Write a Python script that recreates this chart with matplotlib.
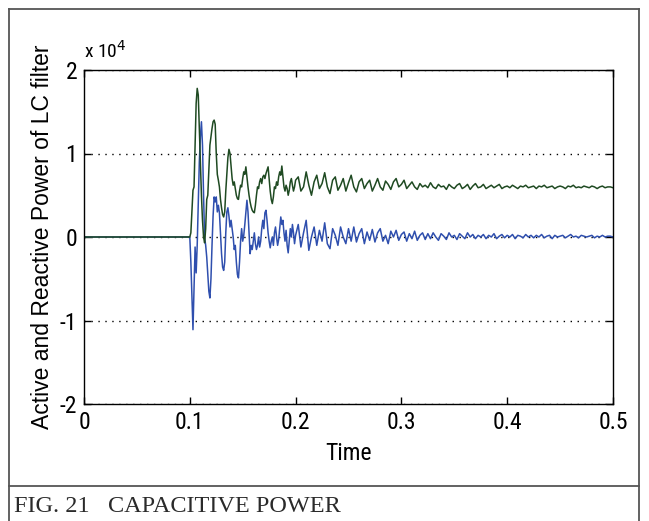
import numpy as np
import matplotlib.pyplot as plt
plt.switch_backend('agg')

# +------+
# | Data |
# +------+
# transient part, sampled every 1 ms from t = 0.100 s to t = 0.200 s (units of 1e4)
t_trans_start = 0.100
t_trans_step = 0.001
active_trans = [
  0.0, 0.05, 0.3, 0.56, 0.6, 1.1, 1.6, 1.78, 1.7, 1.3,
  0.9, 0.5, 0.2, 0.0, -0.07, 0.1, 0.45, 0.5, 0.8, 1.1,
  1.2, 1.3, 1.38, 1.40, 1.35, 1.0, 0.75, 0.68, 0.6, 0.45,
  0.35, 0.27, 0.24, 0.3, 0.55, 0.75, 0.95, 1.05, 1.0, 0.85,
  0.7, 0.62, 0.66, 0.58, 0.5, 0.46, 0.45, 0.55, 0.62, 0.6,
  0.7, 0.78, 0.75, 0.84, 0.72, 0.6, 0.5, 0.42, 0.36, 0.32,
  0.3, 0.29, 0.38, 0.5, 0.6, 0.58, 0.66, 0.7, 0.64, 0.72,
  0.74, 0.7, 0.76, 0.8, 0.84, 0.7, 0.55, 0.45, 0.4, 0.48,
  0.6, 0.58, 0.66, 0.62, 0.72, 0.78, 0.74, 0.85, 0.72, 0.6,
  0.55, 0.62, 0.58, 0.5, 0.56, 0.66, 0.7, 0.62, 0.55, 0.6,
  0.68]
reactive_trans = [
  0.0, -0.3, -0.7, -1.11, -0.6, -0.12, -0.43, -0.1, 0.4, 0.9,
  1.2, 1.38, 1.1, 0.5, 0.0, -0.1, -0.24, -0.45, -0.65, -0.73,
  -0.5, -0.1, 0.25, 0.48, 0.42, 0.48, 0.3, 0.38, 0.29, 0.05,
  -0.2, -0.36, -0.4, -0.3, 0.05, 0.3, 0.35, 0.25, 0.12, 0.2,
  0.1, 0.0, -0.15, -0.1, -0.3, -0.45, -0.49, -0.3, -0.05, 0.1,
  -0.05, 0.02, 0.15, 0.3, 0.44, 0.3, 0.05, -0.2, -0.1, -0.15,
  -0.05, 0.05, -0.08, -0.15, -0.1, 0.0, -0.12, -0.05, 0.1, 0.2,
  0.1, 0.29, 0.32, 0.2, 0.05, -0.05, -0.13, -0.05, 0.0, -0.1,
  0.05, 0.12, 0.0, -0.1, -0.03, 0.1, 0.24, 0.15, 0.2, 0.05,
  -0.05, 0.08, -0.1, -0.19, -0.05, 0.1, 0.0, 0.15, 0.05, -0.08,
  0.02]
# steady part, sampled every 2.5 ms from t = 0.2025 s to t = 0.5 s
t_tail_start = 0.2025
t_tail_step = 0.0025
active_tail = [
  0.72, 0.55, 0.6, 0.78, 0.62, 0.5, 0.66, 0.74, 0.58, 0.64,
  0.77, 0.6, 0.52, 0.68, 0.72, 0.56, 0.62, 0.7, 0.55, 0.65,
  0.74, 0.6, 0.54, 0.66, 0.7, 0.58, 0.64, 0.68, 0.55, 0.62,
  0.7, 0.6, 0.56, 0.67, 0.63, 0.57, 0.66, 0.7, 0.6, 0.63,
  0.68, 0.58, 0.62, 0.66, 0.6, 0.57, 0.64, 0.6, 0.62, 0.59,
  0.65, 0.6, 0.58, 0.63, 0.6, 0.61, 0.57, 0.63, 0.6, 0.58,
  0.62, 0.64, 0.58, 0.6, 0.63, 0.57, 0.61, 0.64, 0.59, 0.6,
  0.63, 0.58, 0.6, 0.62, 0.59, 0.61, 0.63, 0.58, 0.6, 0.61,
  0.59, 0.62, 0.6, 0.58, 0.61, 0.6, 0.62, 0.59, 0.6, 0.61,
  0.58, 0.61, 0.6, 0.62, 0.59, 0.6, 0.61, 0.58, 0.6, 0.61,
  0.6, 0.58, 0.61, 0.6, 0.62, 0.59, 0.6, 0.59, 0.61, 0.6,
  0.59, 0.61, 0.6, 0.58, 0.6, 0.61, 0.59, 0.6, 0.6, 0.59]
reactive_tail = [
  0.15, -0.12, 0.05, 0.2, -0.16, 0.0, 0.12, -0.1, 0.08, -0.05,
  0.17, -0.08, -0.14, 0.1, 0.02, -0.1, 0.12, 0.0, -0.08, 0.1,
  -0.05, 0.12, -0.06, 0.04, 0.1, -0.08, 0.06, -0.04, 0.09, -0.06,
  0.05, 0.1, -0.05, 0.02, -0.08, 0.07, 0.0, 0.08, -0.04, 0.03,
  0.06, -0.05, 0.04, -0.02, 0.07, -0.04, 0.02, 0.05, -0.03, 0.04,
  -0.02, 0.05, 0.0, -0.04, 0.04, 0.01, -0.03, 0.05, 0.0, 0.02,
  -0.03, 0.04, 0.01, -0.02, 0.05, 0.0, 0.03, -0.02, 0.02, 0.0,
  0.03, -0.02, 0.02, 0.0, 0.04, -0.02, 0.01, 0.03, -0.01, 0.02,
  0.0, 0.03, -0.02, 0.02, 0.01, -0.01, 0.03, 0.0, 0.02, -0.01,
  0.02, 0.0, 0.03, -0.01, 0.01, 0.02, -0.02, 0.02, 0.0, 0.01,
  0.02, -0.01, 0.01, 0.03, 0.0, 0.01, -0.01, 0.02, 0.01, 0.0,
  0.01, 0.02, -0.01, 0.01, 0.0, 0.02, 0.0, 0.01, 0.01, 0.0]

x_ticks = [0, 0.1, 0.2, 0.3, 0.4, 0.5]
x_tick_labels = ['0', '0.1', '0.2', '0.3', '0.4', '0.5']
y_ticks = [-2, -1, 0, 1, 2]
y_tick_labels = ['-2', '-1', '0', '1', '2']
caption = 'FIG. 21   CAPACITIVE POWER'

# build the time base: flat zero before the switching instant
t_trans = t_trans_start + t_trans_step * np.arange(len(active_trans))
t_tail = t_tail_start + t_tail_step * np.arange(len(active_tail))
t = np.concatenate([[0.0], t_trans, t_tail])
active = np.concatenate([[0.0], active_trans, active_tail])
reactive = np.concatenate([[0.0], reactive_trans, reactive_tail])

# +------+
# | Plot |
# +------+
narrow = ['Liberation Sans Narrow', 'Roboto Condensed', 'Liberation Sans', 'DejaVu Sans']
plt.rcParams['xtick.direction'] = 'in'
plt.rcParams['ytick.direction'] = 'in'

fig = plt.figure(figsize=(6.49, 5.21), dpi=100)
W, H = 649.0, 521.0

# outer frame and caption separator
frame_col = '#555555'
fig.add_artist(plt.Line2D([9/W, 9/W], [0, 1 - 9/H], transform=fig.transFigure, color=frame_col, lw=1.3))
fig.add_artist(plt.Line2D([639/W, 639/W], [0, 1 - 9/H], transform=fig.transFigure, color=frame_col, lw=1.3))
fig.add_artist(plt.Line2D([9/W, 639/W], [1 - 9/H, 1 - 9/H], transform=fig.transFigure, color=frame_col, lw=1.3))
fig.add_artist(plt.Line2D([9/W, 639/W], [1 - 486/H, 1 - 486/H], transform=fig.transFigure, color=frame_col, lw=1.3))
fig.text(14/W, 1 - 506/H, caption, family='Liberation Serif', fontsize=17.5,
         color='#2a2a2a', va='center', ha='left')

ax = fig.add_axes([84/W, 1 - 404/H, 529/W, 334/H])
ax.plot(t, reactive, '-', color='#2f4fae', linewidth=1.1)
ax.plot(t, active, '-', color='#1f4a22', linewidth=1.1)
ax.set_xlim(0, 0.5)
ax.set_ylim(-2, 2)
ax.set_xticks(x_ticks)
ax.set_xticklabels(x_tick_labels, family=narrow, fontsize=17)
ax.set_yticks(y_ticks)
ax.set_yticklabels(y_tick_labels, family=narrow, fontsize=17)
ax.tick_params(top=True, right=True, length=5, width=1, pad=5)
ax.grid(axis='y', linestyle=(0, (1, 4)), color='black', linewidth=1.0)
for s in ax.spines.values():
  s.set_linewidth(1.0)
ax.set_xlabel('Time', family=narrow, fontsize=17, labelpad=6)
ax.set_ylabel('Active and Reactive Power of LC filter', family=['Liberation Sans', 'DejaVu Sans'],
              fontsize=16.5, labelpad=4)
ax.text(0.0, 1.025, r'x 10$^4$', transform=ax.transAxes, family=narrow, fontsize=14,
        ha='left', va='bottom')

plt.savefig('out.png', dpi=100)
